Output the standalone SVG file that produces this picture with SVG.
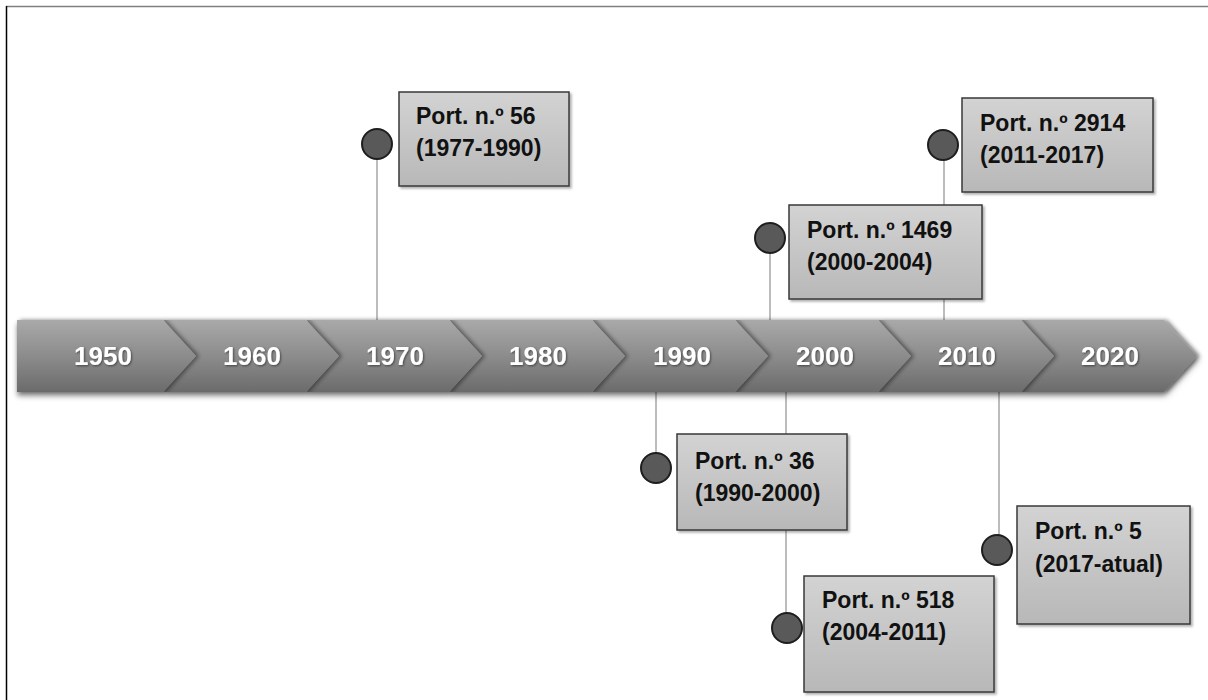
<svg xmlns="http://www.w3.org/2000/svg" width="1208" height="700" viewBox="0 0 1208 700">
<defs>
<linearGradient id="seg" x1="0" y1="0" x2="0" y2="1">
<stop offset="0" stop-color="#a9a9a9"/>
<stop offset="0.5" stop-color="#8c8c8c"/>
<stop offset="1" stop-color="#6b6b6b"/>
</linearGradient>
<linearGradient id="box" x1="0" y1="0" x2="0" y2="1">
<stop offset="0" stop-color="#d3d3d3"/>
<stop offset="1" stop-color="#b8b8b8"/>
</linearGradient>
<filter id="notch" x="-10%" y="-10%" width="130%" height="130%">
<feDropShadow dx="3" dy="0" stdDeviation="2" flood-color="#000" flood-opacity="0.45"/>
</filter>
<filter id="band" x="-5%" y="-20%" width="110%" height="150%">
<feDropShadow dx="0" dy="4" stdDeviation="2.5" flood-color="#000" flood-opacity="0.4"/>
</filter>
<filter id="txt" x="-10%" y="-20%" width="130%" height="150%">
<feDropShadow dx="1" dy="1" stdDeviation="0.8" flood-color="#000" flood-opacity="0.5"/>
</filter>
<filter id="bsh" x="-5%" y="-5%" width="115%" height="115%">
<feDropShadow dx="2" dy="2" stdDeviation="1.2" flood-color="#000" flood-opacity="0.3"/>
</filter>
</defs>
<style>
.seg{fill:url(#seg);filter:url(#notch)}
.yr{font-family:"Liberation Sans",Arial,sans-serif;font-weight:bold;font-size:26px;fill:#fff;text-anchor:middle;filter:url(#txt)}
.box{fill:url(#box);stroke:#3a3a3a;stroke-width:1.5;filter:url(#bsh)}
.lbl{font-family:"Liberation Sans",Arial,sans-serif;font-weight:bold;font-size:23px;fill:#111}
.dot{fill:#595959;stroke:#1e1e1e;stroke-width:2}
.con{stroke:#a6a6a6;stroke-width:1.5;fill:none}
.frame{fill:none;stroke-width:1.5}
</style>
<rect width="1208" height="700" fill="#fff"/>
<line class="frame" x1="6" y1="6.5" x2="1208" y2="6.5" stroke="#7f7f7f"/>
<line class="frame" x1="6.5" y1="6" x2="6.5" y2="700" stroke="#000"/>

<g id="connectors">
<line class="con" x1="377" y1="159" x2="377" y2="320"/>
<line class="con" x1="770" y1="253" x2="770" y2="320"/>
<line class="con" x1="944" y1="160" x2="944" y2="320"/>
<line class="con" x1="656" y1="392" x2="656" y2="453"/>
<line class="con" x1="786" y1="392" x2="786" y2="613"/>
<line class="con" x1="999" y1="392" x2="999" y2="535"/>
</g>

<g id="timeline" filter="url(#band)">
<polygon class="seg" points="1164,320 1197,356 1164,392 1021,392 1054,356 1021,320"/>
<polygon class="seg" points="1021,320 1054,356 1021,392 878,392 911,356 878,320"/>
<polygon class="seg" points="878,320 911,356 878,392 735,392 768,356 735,320"/>
<polygon class="seg" points="735,320 768,356 735,392 592,392 625,356 592,320"/>
<polygon class="seg" points="592,320 625,356 592,392 449,392 482,356 449,320"/>
<polygon class="seg" points="449,320 482,356 449,392 306,392 339,356 306,320"/>
<polygon class="seg" points="306,320 339,356 306,392 163,392 196,356 163,320"/>
<polygon class="seg" points="163,320 196,356 163,392 17,392 17,320"/>
</g>
<g id="years">
<text class="yr" x="103" y="365">1950</text>
<text class="yr" x="252" y="365">1960</text>
<text class="yr" x="395" y="365">1970</text>
<text class="yr" x="538" y="365">1980</text>
<text class="yr" x="682" y="365">1990</text>
<text class="yr" x="825" y="365">2000</text>
<text class="yr" x="967" y="365">2010</text>
<text class="yr" x="1110" y="365">2020</text>
</g>

<g id="port56">
<circle class="dot" cx="377" cy="144" r="15"/>
<rect class="box" x="399" y="92" width="170" height="94"/>
<text class="lbl" x="416" y="124">Port. n.º 56</text>
<text class="lbl" x="416" y="156">(1977-1990)</text>
</g>
<g id="port1469">
<circle class="dot" cx="770" cy="238" r="15"/>
<rect class="box" x="789" y="205" width="193" height="94"/>
<text class="lbl" x="807" y="238">Port. n.º 1469</text>
<text class="lbl" x="807" y="270">(2000-2004)</text>
</g>
<g id="port2914">
<circle class="dot" cx="943" cy="145" r="15"/>
<rect class="box" x="962" y="98" width="191" height="94"/>
<text class="lbl" x="980" y="131">Port. n.º 2914</text>
<text class="lbl" x="980" y="163">(2011-2017)</text>
</g>
<g id="port36">
<circle class="dot" cx="656" cy="468" r="15"/>
<rect class="box" x="677" y="434" width="170" height="96"/>
<text class="lbl" x="695" y="469">Port. n.º 36</text>
<text class="lbl" x="695" y="501">(1990-2000)</text>
</g>
<g id="port518">
<circle class="dot" cx="787" cy="628" r="15"/>
<rect class="box" x="804" y="576" width="190" height="116"/>
<text class="lbl" x="822" y="608">Port. n.º 518</text>
<text class="lbl" x="822" y="640">(2004-2011)</text>
</g>
<g id="port5">
<circle class="dot" cx="997" cy="550" r="15"/>
<rect class="box" x="1017" y="506" width="173" height="118"/>
<text class="lbl" x="1035" y="539">Port. n.º 5</text>
<text class="lbl" x="1035" y="572">(2017-atual)</text>
</g>
</svg>
